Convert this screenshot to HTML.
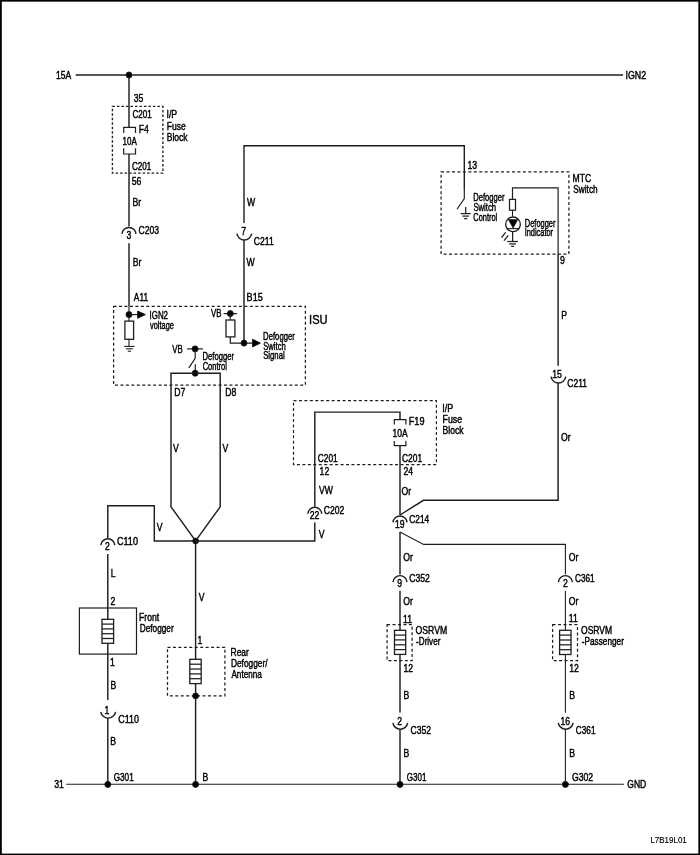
<!DOCTYPE html>
<html><head><meta charset="utf-8"><title>Defogger wiring diagram</title>
<style>
html,body{margin:0;padding:0;background:#fff;}
body{width:700px;height:855px;overflow:hidden;font-family:"Liberation Sans",sans-serif;}
svg{display:block;will-change:transform;}
svg path,svg rect,svg circle{stroke:#1e1e1e;}
svg rect.b{stroke:none;}
svg text{font-family:"Liberation Sans",sans-serif;fill:#000;stroke:#000;stroke-width:0.42px;}
</style></head><body>
<svg width="700" height="855" viewBox="0 0 700 855">
<rect class="b" x="0" y="0" width="700" height="855" fill="#fff"/>
<g style="stroke:none" fill="#000" stroke="none"><rect class="b" x="0" y="0" width="700" height="1.65"/><rect class="b" x="0" y="0" width="1.8" height="855"/><rect class="b" x="698.35" y="0" width="1.65" height="855"/><rect class="b" x="0" y="853.6" width="700" height="1.4"/></g>
<g fill="none">
<path d="M75.7 75.0 L623.1 75.0" stroke-width="1.45" />
<path d="M66.3 784.3 L623.9 784.3" stroke-width="1.1" />
<path d="M129.0 75.0 L129.0 127.3" stroke-width="1.45" />
<path d="M123.7 133.1 L123.7 127.3 L135.5 127.3 L135.5 133.1" stroke-width="1.2" fill="none"/>
<path d="M123.7 148.2 L123.7 154.0 L135.5 154.0 L135.5 148.2" stroke-width="1.2" fill="none"/>
<path d="M129.0 154.0 L129.0 226.4" stroke-width="1.45" />
<path d="M122.02 233.91 A7.00 7.00 0 0 1 135.98 233.91" stroke-width="1.45" fill="none"/>
<path d="M129.0 243.3 L129.0 306.4" stroke-width="1.45" />
<path d="M129.0 306.4 L129.0 321.0" stroke-width="1.15" />
<circle cx="129.0" cy="75.0" r="3.0" fill="#000" stroke="none"/>
<rect x="112.4" y="106.4" width="50.5" height="66.7" stroke-width="1.35" stroke-dasharray="2.5 2.0" fill="none"/>
<path d="M244.0 222.9 L244.0 145.8 L464.3 145.8 L464.3 188.5" stroke-width="1.4" fill="none"/>
<path d="M464.3 188.0 L464.3 198.6 L457.0 209.3" stroke-width="1.15" fill="none"/>
<path d="M236.89 233.67 A7.50 7.50 0 0 0 251.71 233.67" stroke-width="1.45" fill="none"/>
<path d="M244.0 240.0 L244.0 343.1" stroke-width="1.45" />
<path d="M465.7 207.1 L465.7 213.6" stroke-width="1.25" />
<path d="M460.7 213.6 L470.7 213.6" stroke-width="1.25" />
<path d="M462.5 216.1 L468.9 216.1" stroke-width="1.25" />
<path d="M464.1 218.6 L467.3 218.6" stroke-width="1.25" />
<rect x="441.1" y="171.8" width="127.8" height="82.3" stroke-width="1.25" stroke-dasharray="3.0 2.45" fill="none"/>
<path d="M512.5 199.5 L512.5 187.9 L558.1 187.9 L558.1 254.1" stroke-width="1.2" fill="none"/>
<path d="M558.1 254.1 L558.1 365.7" stroke-width="1.45" />
<rect x="509.5" y="199.4" width="6.0" height="10.8" stroke-width="1.25" fill="#fff"/>
<path d="M512.5 210.0 L512.5 216.5" stroke-width="1.1" />
<circle cx="513" cy="224.3" r="7.35" stroke-width="1.35" fill="#fff"/>
<path d="M508.3 219.5 L517.9 219.5 L513.1 228.2 Z" fill="#000" stroke="#000" stroke-width="0.6"/>
<path d="M506.4 228.6 L519.6 228.6" stroke-width="1.1" />
<path d="M512.6 231.8 L512.6 241.5" stroke-width="1.25" />
<path d="M507.3 241.5 L517.9 241.5" stroke-width="1.25" />
<path d="M509.2 243.9 L516.0 243.9" stroke-width="1.25" />
<path d="M511.1 246.3 L514.1 246.3" stroke-width="1.25" />
<path d="M505.6 232.4 L501.5 237.6" stroke-width="1.3" />
<path d="M508.2 235.4 L504.0 240.6" stroke-width="1.3" />
<path d="M550.99 376.67 A7.50 7.50 0 0 0 565.81 376.67" stroke-width="1.45" fill="none"/>
<path d="M558.1 383.1 L558.1 500.3 L423.5 500.3 L400.0 515.0" stroke-width="1.45" fill="none"/>
<rect x="113.6" y="306.4" width="191.8" height="78.6" stroke-width="1.25" stroke-dasharray="3.0 2.45" fill="none"/>
<circle cx="129.0" cy="314.6" r="3.0" fill="#000" stroke="none"/>
<path d="M129.0 314.6 L138.0 314.6" stroke-width="1.15" />
<path d="M137.6 311.0 L145.4 314.6 L137.6 318.2 Z" fill="#000" stroke="none"/>
<rect x="124.9" y="321.1" width="8.7" height="18.2" stroke-width="1.3" fill="#fff"/>
<path d="M129.0 339.3 L129.0 346.4" stroke-width="1.1" />
<path d="M124.2 346.4 L134.6 346.4" stroke-width="1.1" />
<path d="M126.0 348.8 L132.8 348.8" stroke-width="1.1" />
<path d="M127.8 351.2 L131.0 351.2" stroke-width="1.1" />
<path d="M223.6 313.6 L237.1 313.6" stroke-width="1.2" />
<circle cx="230.3" cy="313.6" r="3.0" fill="#000" stroke="none"/>
<path d="M230.3 313.6 L230.3 320.0" stroke-width="1.1" />
<rect x="226.0" y="320.0" width="8.9" height="16.9" stroke-width="1.3" fill="#fff"/>
<path d="M230.3 336.9 L230.3 343.1 L253.0 343.1" stroke-width="1.2" fill="none"/>
<circle cx="244.0" cy="343.1" r="3.0" fill="#000" stroke="none"/>
<path d="M252.6 339.3 L260.4 343.1 L252.6 346.9 Z" fill="#000" stroke="none"/>
<path d="M187.1 348.9 L202.9 348.9" stroke-width="1.2" />
<circle cx="195.1" cy="348.9" r="3.0" fill="#000" stroke="none"/>
<path d="M195.2 348.9 L195.2 358.4 L188.8 367.8" stroke-width="1.2" fill="none"/>
<path d="M195.3 364.3 L195.3 373.2" stroke-width="1.2" />
<circle cx="195.2" cy="373.2" r="3.0" fill="#000" stroke="none"/>
<path d="M194.9 373.2 L171.0 373.2 L171.0 506.8 L195.6 540.9" stroke-width="1.45" fill="none"/>
<path d="M194.9 373.2 L220.2 373.2 L220.2 506.8 L195.6 540.9" stroke-width="1.45" fill="none"/>
<circle cx="195.6" cy="540.9" r="2.9" fill="#000" stroke="none"/>
<path d="M107.8 537.9 L107.8 505.7 L154.3 505.7 L154.3 540.9 L314.8 540.9 L314.8 522.6" stroke-width="1.45" fill="none"/>
<path d="M100.87 545.21 A7.00 7.00 0 0 1 114.83 545.21" stroke-width="1.45" fill="none"/>
<path d="M107.8 553.9 L107.8 619.0" stroke-width="1.45" />
<rect x="79.4" y="608.0" width="57.1" height="46.1" stroke-width="1.2" fill="none"/>
<rect x="102.0" y="619.3" width="11.6" height="24.0" stroke-width="1.3" fill="#fff"/>
<path d="M102.0 624.1 L113.5 624.1" stroke-width="1.25" />
<path d="M102.0 628.9 L113.5 628.9" stroke-width="1.25" />
<path d="M102.0 633.7 L113.5 633.7" stroke-width="1.25" />
<path d="M102.0 638.5 L113.5 638.5" stroke-width="1.25" />
<path d="M107.8 643.0 L107.8 699.9" stroke-width="1.45" />
<path d="M100.74 711.77 A7.50 7.50 0 0 0 115.56 711.77" stroke-width="1.45" fill="none"/>
<path d="M107.8 718.1 L107.8 784.4" stroke-width="1.45" />
<circle cx="107.8" cy="784.4" r="3.0" fill="#000" stroke="none"/>
<path d="M195.6 540.9 L195.6 659.3" stroke-width="1.45" />
<rect x="167.5" y="647.3" width="57.4" height="48.6" stroke-width="1.25" stroke-dasharray="3.0 2.45" fill="none"/>
<rect x="189.8" y="659.3" width="11.4" height="24.3" stroke-width="1.3" fill="#fff"/>
<path d="M189.8 664.2 L201.2 664.2" stroke-width="1.25" />
<path d="M189.8 669.0 L201.2 669.0" stroke-width="1.25" />
<path d="M189.8 673.9 L201.2 673.9" stroke-width="1.25" />
<path d="M189.8 678.7 L201.2 678.7" stroke-width="1.25" />
<path d="M195.6 683.5 L195.6 784.4" stroke-width="1.45" />
<circle cx="195.6" cy="695.9" r="2.9" fill="#000" stroke="none"/>
<circle cx="195.6" cy="784.4" r="3.0" fill="#000" stroke="none"/>
<rect x="293.5" y="400.6" width="142.9" height="64.0" stroke-width="1.15" stroke-dasharray="3.0 2.45" fill="none"/>
<path d="M307.82 513.81 A7.00 7.00 0 0 1 321.78 513.81" stroke-width="1.45" fill="none"/>
<path d="M314.8 506.4 L314.8 412.1 L400.0 412.1 L400.0 419.6" stroke-width="1.45" fill="none"/>
<path d="M394.3 424.4 L394.3 419.6 L405.9 419.6 L405.9 424.4" stroke-width="1.2" fill="none"/>
<path d="M394.3 440.9 L394.3 445.7 L405.9 445.7 L405.9 440.9" stroke-width="1.2" fill="none"/>
<path d="M400.0 445.7 L400.0 515.0" stroke-width="1.45" />
<path d="M393.02 522.41 A7.00 7.00 0 0 1 406.98 522.41" stroke-width="1.45" fill="none"/>
<path d="M400.0 574.6 L400.0 532.1" stroke-width="1.45" />
<path d="M400.0 532.1 L423.6 544.4 L565.4 544.4 L565.4 574.6" stroke-width="1.1" fill="none"/>
<path d="M393.02 582.11 A7.00 7.00 0 0 1 406.98 582.11" stroke-width="1.45" fill="none"/>
<path d="M400.0 590.7 L400.0 630.3" stroke-width="1.45" />
<rect x="387.1" y="624.6" width="25.0" height="36.1" stroke-width="1.25" stroke-dasharray="3.0 2.45" fill="none"/>
<rect x="394.5" y="630.3" width="11.2" height="24.1" stroke-width="1.3" fill="#fff"/>
<path d="M394.5 635.1 L405.8 635.1" stroke-width="1.25" />
<path d="M394.5 639.9 L405.8 639.9" stroke-width="1.25" />
<path d="M394.5 644.8 L405.8 644.8" stroke-width="1.25" />
<path d="M394.5 649.6 L405.8 649.6" stroke-width="1.25" />
<path d="M400.0 654.4 L400.0 712.5" stroke-width="1.45" />
<path d="M392.89 722.87 A7.50 7.50 0 0 0 407.71 722.87" stroke-width="1.45" fill="none"/>
<path d="M400.0 729.3 L400.0 784.4" stroke-width="1.45" />
<circle cx="400.0" cy="784.4" r="3.0" fill="#000" stroke="none"/>
<path d="M558.42 582.11 A7.00 7.00 0 0 1 572.38 582.11" stroke-width="1.45" fill="none"/>
<path d="M565.4 590.7 L565.4 630.3" stroke-width="1.1" />
<rect x="552.6" y="624.6" width="24.9" height="36.0" stroke-width="1.25" stroke-dasharray="3.0 2.45" fill="none"/>
<rect x="559.6" y="630.3" width="11.4" height="24.2" stroke-width="1.3" fill="#fff"/>
<path d="M559.6 635.1 L571.0 635.1" stroke-width="1.25" />
<path d="M559.6 640.0 L571.0 640.0" stroke-width="1.25" />
<path d="M559.6 644.8 L571.0 644.8" stroke-width="1.25" />
<path d="M559.6 649.7 L571.0 649.7" stroke-width="1.25" />
<path d="M565.4 654.5 L565.4 712.7" stroke-width="1.1" />
<path d="M558.29 722.87 A7.50 7.50 0 0 0 573.11 722.87" stroke-width="1.45" fill="none"/>
<path d="M565.4 729.4 L565.4 784.4" stroke-width="1.1" />
<circle cx="565.4" cy="784.4" r="3.0" fill="#000" stroke="none"/>
<text transform="translate(56.02 78.90) scale(0.826 1)" font-size="10.30">15A</text>
<text transform="translate(625.53 78.90) scale(0.856 1)" font-size="10.30">IGN2</text>
<text transform="translate(133.70 101.70) scale(0.840 1)" font-size="10.30">35</text>
<text transform="translate(132.55 117.60) scale(0.783 1)" font-size="10.30">C201</text>
<text transform="translate(138.67 132.70) scale(0.840 1)" font-size="10.30">F4</text>
<text transform="translate(122.55 145.00) scale(0.780 1)" font-size="10.30">10A</text>
<text transform="translate(131.95 170.00) scale(0.788 1)" font-size="10.30">C201</text>
<text transform="translate(131.80 184.60) scale(0.840 1)" font-size="10.30">56</text>
<text transform="translate(166.46 118.40) scale(0.852 1)" font-size="10.30">I/P</text>
<text transform="translate(166.72 129.60) scale(0.831 1)" font-size="10.30">Fuse</text>
<text transform="translate(166.77 140.70) scale(0.824 1)" font-size="10.30">Block</text>
<text transform="translate(132.54 205.60) scale(0.840 1)" font-size="10.30">Br</text>
<text transform="translate(126.52 238.90) scale(0.840 1)" font-size="10.30">3</text>
<text transform="translate(138.53 234.20) scale(0.832 1)" font-size="10.30">C203</text>
<text transform="translate(132.84 266.40) scale(0.840 1)" font-size="10.30">Br</text>
<text transform="translate(133.84 301.00) scale(0.809 1)" font-size="10.30">A11</text>
<text transform="translate(246.91 205.60) scale(0.840 1)" font-size="10.30">W</text>
<text transform="translate(241.14 235.30) scale(0.840 1)" font-size="10.30">7</text>
<text transform="translate(253.81 244.60) scale(0.832 1)" font-size="10.30">C211</text>
<text transform="translate(246.61 266.00) scale(0.840 1)" font-size="10.30">W</text>
<text transform="translate(246.61 301.00) scale(0.879 1)" font-size="10.30">B15</text>
<text transform="translate(467.45 168.90) scale(0.840 1)" font-size="10.30">13</text>
<text transform="translate(572.51 181.70) scale(0.833 1)" font-size="10.30">MTC</text>
<text transform="translate(573.34 192.95) scale(0.800 1)" font-size="10.30">Switch</text>
<text transform="translate(473.30 200.55) scale(0.736 1)" font-size="10.30">Defogger</text>
<text transform="translate(473.39 210.55) scale(0.747 1)" font-size="10.30">Switch</text>
<text transform="translate(473.31 220.55) scale(0.720 1)" font-size="10.30">Control</text>
<text transform="translate(524.81 226.55) scale(0.724 1)" font-size="10.30">Defogger</text>
<text transform="translate(524.65 235.85) scale(0.720 1)" font-size="10.30">Indicator</text>
<text transform="translate(559.90 263.90) scale(0.840 1)" font-size="10.30">9</text>
<text transform="translate(561.13 318.90) scale(0.840 1)" font-size="10.30">P</text>
<text transform="translate(552.29 378.20) scale(0.840 1)" font-size="10.30">15</text>
<text transform="translate(567.32 387.40) scale(0.824 1)" font-size="10.30">C211</text>
<text transform="translate(560.96 441.00) scale(0.840 1)" font-size="10.30">Or</text>
<text transform="translate(149.53 318.60) scale(0.770 1)" font-size="10.30">IGN2</text>
<text transform="translate(150.00 328.85) scale(0.720 1)" font-size="10.30">voltage</text>
<text transform="translate(211.03 316.95) scale(0.765 1)" font-size="10.30">VB</text>
<text transform="translate(172.18 353.45) scale(0.765 1)" font-size="10.30">VB</text>
<text transform="translate(263.09 340.35) scale(0.751 1)" font-size="10.30">Defogger</text>
<text transform="translate(263.19 350.05) scale(0.744 1)" font-size="10.30">Switch</text>
<text transform="translate(263.16 359.35) scale(0.752 1)" font-size="10.30">Signal</text>
<text transform="translate(202.59 359.85) scale(0.744 1)" font-size="10.30">Defogger</text>
<text transform="translate(202.70 369.55) scale(0.729 1)" font-size="10.30">Control</text>
<text transform="translate(309.04 323.90) scale(0.900 1)" font-size="12.36">ISU</text>
<text transform="translate(174.18 396.00) scale(0.840 1)" font-size="10.30">D7</text>
<text transform="translate(225.35 396.00) scale(0.840 1)" font-size="10.30">D8</text>
<text transform="translate(173.01 452.40) scale(0.840 1)" font-size="10.30">V</text>
<text transform="translate(222.56 452.40) scale(0.840 1)" font-size="10.30">V</text>
<text transform="translate(408.80 425.00) scale(0.884 1)" font-size="10.30">F19</text>
<text transform="translate(392.52 437.00) scale(0.826 1)" font-size="10.30">10A</text>
<text transform="translate(317.84 462.20) scale(0.804 1)" font-size="10.30">C201</text>
<text transform="translate(402.03 462.20) scale(0.817 1)" font-size="10.30">C201</text>
<text transform="translate(319.58 475.00) scale(0.840 1)" font-size="10.30">12</text>
<text transform="translate(403.55 475.00) scale(0.840 1)" font-size="10.30">24</text>
<text transform="translate(318.88 494.40) scale(0.840 1)" font-size="10.30">VW</text>
<text transform="translate(401.61 494.60) scale(0.840 1)" font-size="10.30">Or</text>
<text transform="translate(442.24 412.20) scale(0.870 1)" font-size="10.30">I/P</text>
<text transform="translate(442.50 423.20) scale(0.859 1)" font-size="10.30">Fuse</text>
<text transform="translate(442.56 434.20) scale(0.836 1)" font-size="10.30">Block</text>
<text transform="translate(309.64 518.90) scale(0.840 1)" font-size="10.30">22</text>
<text transform="translate(323.82 513.90) scale(0.835 1)" font-size="10.30">C202</text>
<text transform="translate(318.76 538.20) scale(0.840 1)" font-size="10.30">V</text>
<text transform="translate(395.06 527.70) scale(0.840 1)" font-size="10.30">19</text>
<text transform="translate(409.24 522.90) scale(0.810 1)" font-size="10.30">C214</text>
<text transform="translate(403.31 561.00) scale(0.840 1)" font-size="10.30">Or</text>
<text transform="translate(397.20 587.20) scale(0.840 1)" font-size="10.30">9</text>
<text transform="translate(409.22 582.00) scale(0.835 1)" font-size="10.30">C352</text>
<text transform="translate(403.31 605.00) scale(0.840 1)" font-size="10.30">Or</text>
<text transform="translate(403.09 622.70) scale(0.840 1)" font-size="10.30">11</text>
<text transform="translate(415.54 634.30) scale(0.844 1)" font-size="10.30">OSRVM</text>
<text transform="translate(416.10 645.30) scale(0.786 1)" font-size="10.30">-Driver</text>
<text transform="translate(403.53 671.70) scale(0.840 1)" font-size="10.30">12</text>
<text transform="translate(403.43 698.90) scale(0.840 1)" font-size="10.30">B</text>
<text transform="translate(397.19 724.60) scale(0.840 1)" font-size="10.30">2</text>
<text transform="translate(410.62 733.90) scale(0.835 1)" font-size="10.30">C352</text>
<text transform="translate(403.43 756.70) scale(0.840 1)" font-size="10.30">B</text>
<text transform="translate(406.86 781.00) scale(0.776 1)" font-size="10.30">G301</text>
<text transform="translate(568.81 561.00) scale(0.840 1)" font-size="10.30">Or</text>
<text transform="translate(562.99 587.20) scale(0.840 1)" font-size="10.30">2</text>
<text transform="translate(574.94 582.00) scale(0.800 1)" font-size="10.30">C361</text>
<text transform="translate(568.76 605.20) scale(0.840 1)" font-size="10.30">Or</text>
<text transform="translate(568.84 622.30) scale(0.840 1)" font-size="10.30">11</text>
<text transform="translate(581.04 634.30) scale(0.828 1)" font-size="10.30">OSRVM</text>
<text transform="translate(581.82 645.40) scale(0.800 1)" font-size="10.30">-Passenger</text>
<text transform="translate(569.13 671.50) scale(0.840 1)" font-size="10.30">12</text>
<text transform="translate(569.13 698.90) scale(0.840 1)" font-size="10.30">B</text>
<text transform="translate(560.55 724.60) scale(0.840 1)" font-size="10.30">16</text>
<text transform="translate(575.84 733.70) scale(0.800 1)" font-size="10.30">C361</text>
<text transform="translate(569.13 756.80) scale(0.840 1)" font-size="10.30">B</text>
<text transform="translate(571.93 780.80) scale(0.843 1)" font-size="10.30">G302</text>
<text transform="translate(627.30 788.00) scale(0.829 1)" font-size="10.30">GND</text>
<text transform="translate(54.23 787.60) scale(0.840 1)" font-size="10.30">31</text>
<text transform="translate(113.65 781.30) scale(0.797 1)" font-size="10.30">G301</text>
<text transform="translate(110.28 745.30) scale(0.840 1)" font-size="10.30">B</text>
<text transform="translate(118.20 722.50) scale(0.868 1)" font-size="10.30">C110</text>
<text transform="translate(104.62 713.60) scale(0.840 1)" font-size="10.30">1</text>
<text transform="translate(110.53 688.70) scale(0.840 1)" font-size="10.30">B</text>
<text transform="translate(110.12 665.90) scale(0.840 1)" font-size="10.30">1</text>
<text transform="translate(139.04 621.40) scale(0.839 1)" font-size="10.30">Front</text>
<text transform="translate(139.78 632.45) scale(0.800 1)" font-size="10.30">Defogger</text>
<text transform="translate(110.44 605.30) scale(0.840 1)" font-size="10.30">2</text>
<text transform="translate(110.63 577.00) scale(0.840 1)" font-size="10.30">L</text>
<text transform="translate(105.09 550.30) scale(0.840 1)" font-size="10.30">2</text>
<text transform="translate(116.99 545.00) scale(0.876 1)" font-size="10.30">C110</text>
<text transform="translate(156.86 531.00) scale(0.840 1)" font-size="10.30">V</text>
<text transform="translate(198.81 601.00) scale(0.840 1)" font-size="10.30">V</text>
<text transform="translate(197.62 644.20) scale(0.840 1)" font-size="10.30">1</text>
<text transform="translate(230.52 656.40) scale(0.824 1)" font-size="10.30">Rear</text>
<text transform="translate(230.88 667.00) scale(0.812 1)" font-size="10.30">Defogger/</text>
<text transform="translate(231.46 678.20) scale(0.789 1)" font-size="10.30">Antenna</text>
<text transform="translate(202.38 780.70) scale(0.840 1)" font-size="10.30">B</text>
<text x="686.8" y="842.8" font-size="8.4" text-anchor="end" style="stroke-width:0.15px" transform="translate(686.8 0) scale(0.95 1) translate(-686.8 0)">L7B19L01</text>
</g>
</svg>
</body></html>
